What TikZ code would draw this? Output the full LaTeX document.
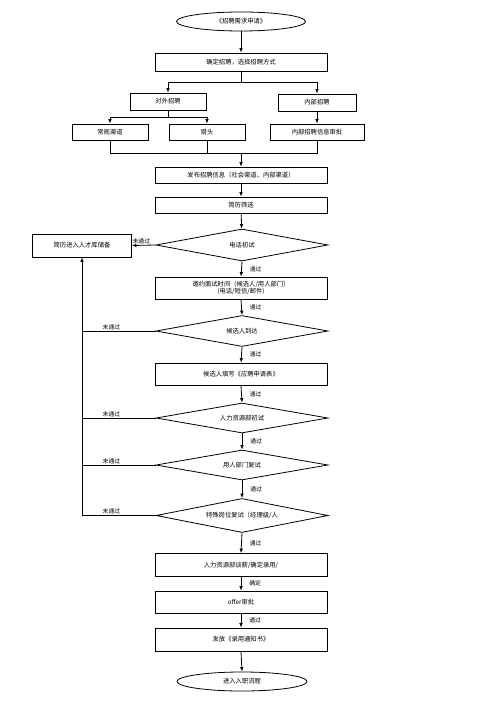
\documentclass[tikz,border=0pt]{standalone}
\usepackage{fontspec}
\setmainfont{Noto Sans CJK SC}
\usetikzlibrary{shapes.geometric,arrows.meta}
\begin{document}
\begin{tikzpicture}[x=1pt,y=-1pt,
  every node/.style={font=\fontsize{6.3}{7.5}\selectfont, inner sep=0pt},
  box/.style={draw, line width=0.8pt, rectangle, minimum width=172pt, minimum height=#1, align=center},
  box/.default=17pt,
  sbox/.style={draw, line width=0.8pt, rectangle, minimum height=16pt, align=center},
  dia/.style={draw, line width=0.8pt, diamond, aspect=6, minimum width=172pt, minimum height=#1, align=center},
  dia/.default=31pt,
  term/.style={draw, line width=0.8pt, ellipse, minimum width=129pt, minimum height=19pt},
  line/.style={line width=0.8pt},
  arr/.style={line width=0.8pt, -{Latex[length=4.5pt,width=3.6pt]}},
  lab/.style={font=\fontsize{5.8}{7}\selectfont}
]
\useasboundingbox (0,0) rectangle (503,711);

% nodes
\node[term] (start) at (241,21.5) {《招聘需求申请》};
\node[box=18pt] (n1) at (241,62) {确定招聘，选择招聘方式};
\node[sbox, minimum width=76pt, minimum height=17pt] (wai) at (168,101.5) {对外招聘};
\node[sbox, minimum width=78pt, minimum height=17pt] (nei) at (317,102.5) {内部招聘};
\node[sbox, minimum width=76pt] (cg) at (110,132) {常规渠道};
\node[sbox, minimum width=76pt] (lt) at (207,132) {猎头};
\node[sbox, minimum width=94pt] (nsp) at (317,132) {内部招聘信息审批};
\node[box=16pt] (fb) at (241,175) {发布招聘信息（社会渠道、内部渠道）};
\node[box=16pt] (jl) at (241,205) {简历筛选};
\node[dia=32pt] (d1) at (242,245) {电话初试};
\node[sbox, minimum width=99pt, minimum height=23pt] (pool) at (82,245.5) {简历进入人才库储备};
\node[box=22pt] (pc) at (241,288) {邀约面试时间（候选人/用人部门）\\(电话/短信/邮件)};
\node[dia=31pt] (d2) at (242,331) {候选人到达};
\node[box=22pt] (tx) at (241,374) {候选人填写《应聘申请表》};
\node[dia=30pt] (d3) at (242,418) {人力资源部初试};
\node[dia=30pt] (d4) at (242,465) {用人部门复试};
\node[dia=34pt] (d5) at (242,515.5) {特殊岗位复试（经理级/人};
\node[box=23pt] (tx2) at (241,565) {人力资源部谈薪/确定录用/};
\node[box=22pt] (of) at (241,602) {offer审批};
\node[box=23pt] (ff) at (241,639.5) {发放《录用通知书》};
\node[term, minimum width=130pt] (end) at (242,681.5) {进入入职流程};

% top part
\draw[arr] (start) -- (n1);
\coordinate (b1) at (241,82);
\draw[line] (n1.south) -- (b1);
\draw[arr] (b1) -| (wai.north);
\draw[arr] (b1) -| (nei.north);
\coordinate (b2) at (168,117);
\draw[line] (wai.south) -- (b2);
\draw[arr] (b2) -| (cg.north);
\draw[arr] (b2) -| (lt.north);
\draw[arr] (nei) -- (nsp);
\coordinate (m) at (241,153);
\draw[line] (cg.south) |- (m);
\draw[line] (lt.south) |- (m);
\draw[line] (nsp.south) |- (m);
\draw[arr] (m) -- (fb.north);
\draw[arr] (fb) -- (jl);
\draw[arr] (jl) -- (d1);

% main column
\draw[arr] (d1.west) -- node[lab, above, pos=0.6, yshift=1pt] {未通过} (pool.east);
\draw[arr] (d1.south) -- node[lab, right, xshift=8pt, pos=0.5] {通过} (pc.north);
\draw[arr] (pc.south) -- node[lab, right, xshift=8pt, pos=0.5] {通过} (d2.north);
\draw[arr] (d2.south) -- node[lab, right, xshift=8pt, pos=0.5] {通过} (tx.north);
\draw[arr] (tx.south) -- node[lab, right, xshift=8pt, pos=0.5] {通过} (d3.north);
\draw[arr] (d3.south) -- node[lab, right, xshift=8pt, pos=0.5] {通过} (d4.north);
\draw[arr] (d4.south) -- node[lab, right, xshift=8pt, pos=0.5] {通过} (d5.north);
\draw[arr] (d5.south) -- node[lab, right, xshift=8pt, pos=0.5] {通过} (tx2.north);
\draw[arr] (tx2.south) -- node[lab, right, xshift=8pt, pos=0.5] {确定} (of.north);
\draw[arr] (of.south) -- node[lab, right, xshift=8pt, pos=0.5] {通过} (ff.north);
\draw[arr] (ff.south) -- (end.north);

% left loop
\draw[arr] (d5.west) -- node[lab, above, pos=0.6, yshift=1pt] {未通过} (d5.west -| pool.south) -- (pool.south);
\draw[line] (d2.west) -- node[lab, above, pos=0.6, yshift=1pt] {未通过} (d2.west -| pool.south);
\draw[line] (d3.west) -- node[lab, above, pos=0.6, yshift=1pt] {未通过} (d3.west -| pool.south);
\draw[line] (d4.west) -- node[lab, above, pos=0.6, yshift=1pt] {未通过} (d4.west -| pool.south);
\end{tikzpicture}
\end{document}
